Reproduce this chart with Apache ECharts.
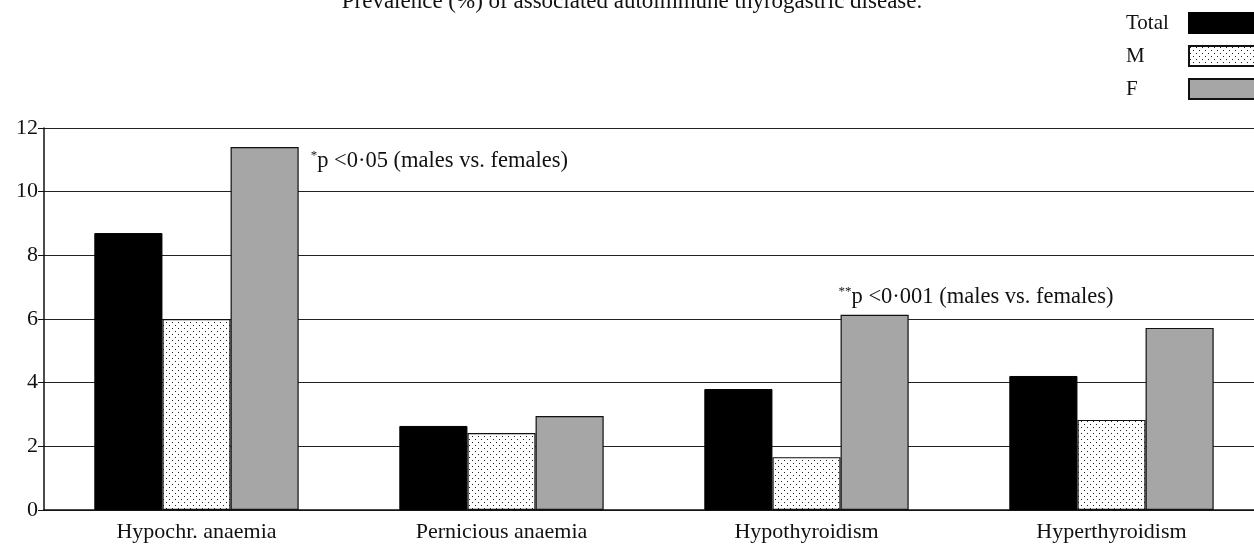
<!DOCTYPE html>
<html>
<head>
<meta charset="utf-8">
<script src="https://cdn.jsdelivr.net/npm/echarts@6/dist/echarts.min.js"></script>
<style>
  html, body { margin: 0; padding: 0; background: #fff; overflow: hidden; }
  #chart { width: 1264px; height: 546px; }
</style>
</head>
<body>
<div id="chart"></div>
<script>
const categories = ['Hypochr. anaemia', 'Pernicious anaemia', 'Hypothyroidism', 'Hyperthyroidism'];
const totalValues = [8.7, 2.64, 3.8, 4.21];
const maleValues = [6.0, 2.42, 1.66, 2.83];
const femaleValues = [11.4, 2.95, 6.13, 5.72];
const yTicks = { min: 0, max: 12, interval: 2 };
const chartTitle = 'Prevalence (%) of associated autoimmune thyrogastric disease.';
const note1 = { stars: '*', text: 'p <0·05 (males vs. females)' };
const note2 = { stars: '**', text: 'p <0·001 (males vs. females)' };

const FONT = '"Liberation Serif", "DejaVu Serif", serif';

// small dotted fill for the M bars
function dotPattern() {
  const c = document.createElement('canvas');
  c.width = 6; c.height = 6;
  const ctx = c.getContext('2d');
  ctx.fillStyle = '#fff';
  ctx.fillRect(0, 0, 6, 6);
  ctx.fillStyle = '#222';
  ctx.fillRect(1, 1, 1, 1);
  ctx.fillRect(4, 4, 1, 1);
  return c;
}

const noteRich = {
  sup: { fontFamily: FONT, fontSize: 13, color: '#111', verticalAlign: 'top', lineHeight: 24 },
  txt: { fontFamily: FONT, fontSize: 22.5, color: '#111', lineHeight: 24 }
};

const femaleData = femaleValues.map((v, i) => {
  if (i === 0) {
    return {
      value: v,
      label: {
        show: true, position: ['100%', 0], align: 'left', verticalAlign: 'middle',
        offset: [12, 14],
        formatter: '{sup|' + note1.stars + '}{txt|' + note1.text + '}', rich: noteRich
      }
    };
  }
  if (i === 2) {
    return {
      value: v,
      label: {
        show: true, position: [0, 0], align: 'left', verticalAlign: 'bottom',
        offset: [-2, -6],
        formatter: '{sup|' + note2.stars + '}{txt|' + note2.text + '}', rich: noteRich
      }
    };
  }
  return v;
});

// the plot runs past the right edge of the window, so the canvas is a bit wider
const chart = echarts.init(document.getElementById('chart'));
chart.setOption({
  animation: false,
  title: {
    text: chartTitle, left: 627, textAlign: 'center', top: -15,
    textStyle: { fontFamily: FONT, fontSize: 23, fontWeight: 'normal', color: '#111' }
  },
  legend: {
    orient: 'vertical', right: 6, top: 12, align: 'right', padding: 0,
    icon: 'rect', itemWidth: 68, itemHeight: 20, itemGap: 11,
    formatter: '{a|{name}}',
    textStyle: {
      color: '#111',
      rich: { a: { fontFamily: FONT, fontSize: 21, color: '#111', width: 58, align: 'left' } }
    },
    data: ['Total', 'M', 'F']
  },
  grid: { left: 44, top: 128, width: 1220, height: 382 },
  xAxis: {
    type: 'category', data: categories,
    axisLine: { lineStyle: { color: '#111', width: 1.5 } },
    axisTick: { show: false },
    axisLabel: { fontFamily: FONT, fontSize: 22, color: '#111', margin: 11 }
  },
  yAxis: {
    type: 'value', min: yTicks.min, max: yTicks.max, interval: yTicks.interval,
    axisLine: { show: true, lineStyle: { color: '#111', width: 1.5 } },
    axisTick: { show: true, length: 6, lineStyle: { color: '#111' } },
    axisLabel: { fontFamily: FONT, fontSize: 22, color: '#111', margin: 6 },
    splitLine: { lineStyle: { color: '#222', width: 1.2 } }
  },
  series: [
    {
      name: 'Total', type: 'bar', data: totalValues, barGap: '0%', barCategoryGap: '33%',
      itemStyle: { color: '#000', borderColor: '#000', borderWidth: 1 }
    },
    {
      name: 'M', type: 'bar', data: maleValues,
      itemStyle: { color: { image: dotPattern(), repeat: 'repeat' }, borderColor: '#111', borderWidth: 1.2 }
    },
    {
      name: 'F', type: 'bar', data: femaleData,
      itemStyle: { color: '#a6a6a6', borderColor: '#111', borderWidth: 1.2 }
    }
  ]
});
</script>
</body>
</html>
